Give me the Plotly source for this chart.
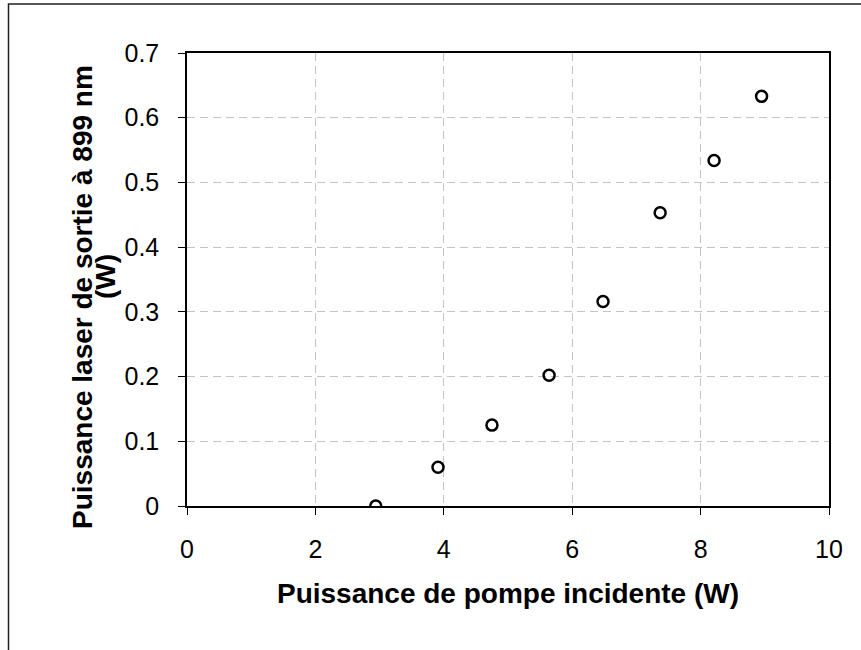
import plotly.graph_objects as go

pump_power = [2.94, 3.91, 4.75, 5.64, 6.48, 7.37, 8.21, 8.95]
laser_power = [0.0, 0.060, 0.125, 0.202, 0.316, 0.453, 0.534, 0.633]

x_title = "Puissance de pompe incidente (W)"
y_title_line1 = "Puissance laser de sortie à 899 nm"
y_title_line2 = "(W)"

W, H = 861, 650
L, R, T, B = 187, 32, 53, 144
pw, ph = W - L - R, H - T - B

fig = go.Figure()
fig.add_trace(go.Scatter(
    x=pump_power, y=laser_power, mode="markers",
    marker=dict(symbol="circle-open", size=11, color="black", line=dict(width=2.5, color="black")),
    showlegend=False,
))

grid = dict(showgrid=True, gridcolor="#c4c4c4", gridwidth=1, griddash="8px,5px")
fig.update_xaxes(
    range=[0, 10], dtick=2, tick0=0, zeroline=False,
    showline=True, linecolor="black", linewidth=1.5, mirror=True,
    ticks="outside", ticklen=7, tickcolor="black", tickwidth=1,
    ticklabelstandoff=13,
    tickfont=dict(family="Liberation Sans, Arial", size=25, color="black"),
    title=dict(text="<b>" + x_title + "</b>", font=dict(family="Liberation Sans, Arial", size=28, color="black"), standoff=22),
    **grid,
)
fig.update_yaxes(
    range=[0, 0.7], dtick=0.1, tick0=0, zeroline=False, tickformat=".1~f",
    showline=True, linecolor="black", linewidth=1.5, mirror=True,
    ticks="outside", ticklen=7, tickcolor="black", tickwidth=1,
    ticklabelstandoff=14,
    tickfont=dict(family="Liberation Sans, Arial", size=25, color="black"),
    **grid,
)

def px2x(px):
    return (px - L) / pw

def py2y(py):
    return 1 - (py - T) / ph

fig.add_annotation(
    text="<b>" + y_title_line1 + "</b>", textangle=-90,
    xref="paper", yref="paper", x=px2x(82), y=py2y(297), showarrow=False,
    xanchor="center", yanchor="middle",
    font=dict(family="Liberation Sans, Arial", size=28, color="black"),
)
fig.add_annotation(
    text="<b>" + y_title_line2 + "</b>", textangle=-90,
    xref="paper", yref="paper", x=px2x(105), y=py2y(277), showarrow=False,
    xanchor="center", yanchor="middle",
    font=dict(family="Liberation Sans, Arial", size=28, color="black"),
)

# outer chart frame
fig.add_shape(
    type="rect", xref="paper", yref="paper",
    x0=px2x(8.5), x1=px2x(900), y0=py2y(700), y1=py2y(4),
    line=dict(color="#202020", width=1.5), fillcolor="rgba(0,0,0,0)", layer="below",
)

fig.update_layout(
    width=W, height=H,
    margin=dict(l=L, r=R, t=T, b=B),
    paper_bgcolor="white", plot_bgcolor="white",
    font=dict(family="Liberation Sans, Arial", color="black"),
)

fig.write_html(
    "out.html",
    config={"displayModeBar": False},
    post_script="document.body.style.margin='0';document.body.style.overflow='hidden';",
)
